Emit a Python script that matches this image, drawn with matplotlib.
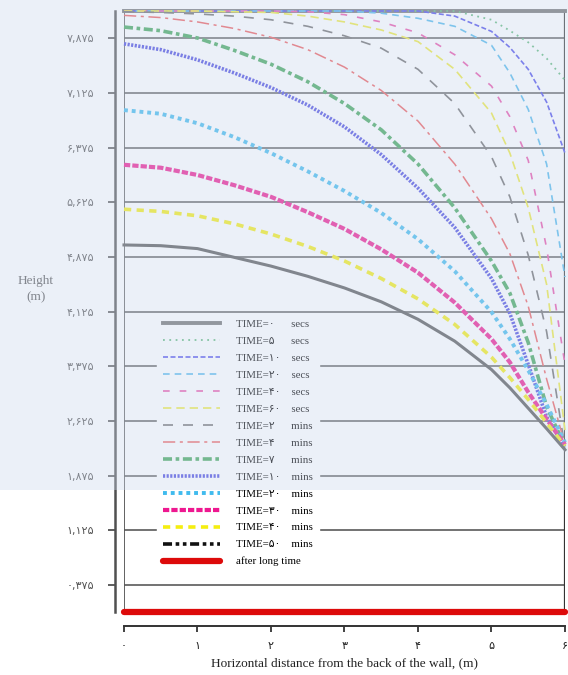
import numpy as np
import matplotlib
matplotlib.use('Agg')
import matplotlib.pyplot as plt
from matplotlib.lines import Line2D

# distance from the back of the wall (m)
x = [0, 0.5, 1, 1.5, 2, 2.5, 3, 3.5, 4, 4.5, 5, 5.25, 5.5, 5.75, 6]

# water table height (m) for each time step
h_0s = [8.25, 8.25, 8.25, 8.25, 8.25, 8.25, 8.25, 8.25, 8.25, 8.25, 8.25, 8.25, 8.25, 8.25, 8.25]
h_5s = [8.25, 8.25, 8.25, 8.25, 8.25, 8.25, 8.25, 8.25, 8.25, 8.25, 8.13, 7.98, 7.82, 7.60, 7.30]
h_10s = [8.25, 8.25, 8.25, 8.25, 8.25, 8.25, 8.25, 8.25, 8.25, 8.18, 7.97, 7.75, 7.45, 7.00, 6.30]
h_20s = [8.25, 8.25, 8.25, 8.25, 8.25, 8.25, 8.25, 8.22, 8.15, 8.04, 7.78, 7.40, 6.90, 6.15, 4.60]
h_40s = [8.25, 8.25, 8.25, 8.25, 8.25, 8.24, 8.20, 8.10, 7.95, 7.65, 7.22, 6.80, 6.20, 5.00, 3.40]
h_60s = [8.25, 8.25, 8.25, 8.24, 8.23, 8.18, 8.10, 7.99, 7.83, 7.45, 6.85, 6.30, 5.55, 4.50, 2.50]
h_2m = [8.24, 8.23, 8.21, 8.18, 8.13, 8.04, 7.91, 7.74, 7.45, 6.98, 6.25, 5.70, 4.90, 3.85, 2.25]
h_4m = [8.19, 8.16, 8.10, 8.01, 7.89, 7.72, 7.48, 7.16, 6.74, 6.15, 5.40, 4.92, 4.20, 3.20, 2.30]
h_7m = [8.03, 7.98, 7.88, 7.71, 7.52, 7.28, 6.98, 6.62, 6.15, 5.55, 4.82, 4.38, 3.70, 2.82, 2.28]
h_10m = [7.80, 7.72, 7.58, 7.40, 7.20, 6.96, 6.66, 6.28, 5.82, 5.28, 4.58, 4.10, 3.40, 2.68, 2.26]
h_20m = [6.89, 6.84, 6.71, 6.52, 6.30, 6.05, 5.78, 5.48, 5.12, 4.68, 4.12, 3.75, 3.32, 2.85, 2.33]
h_30m = [6.14, 6.10, 6.00, 5.86, 5.70, 5.49, 5.26, 4.98, 4.66, 4.25, 3.75, 3.43, 3.02, 2.65, 2.30]
h_40m = [5.53, 5.50, 5.44, 5.33, 5.19, 5.02, 4.82, 4.58, 4.30, 3.95, 3.50, 3.22, 2.92, 2.60, 2.28]
h_50m = [5.04, 5.03, 4.99, 4.87, 4.75, 4.61, 4.45, 4.26, 4.02, 3.72, 3.33, 3.08, 2.80, 2.52, 2.23]
h_long = [0, 0, 0, 0, 0, 0, 0, 0, 0, 0, 0, 0, 0, 0, 0]

times = [0, 5, 10, 20, 40, 60, 2, 4, 7, 10, 20, 30, 40, 50]
units = ['secs'] * 6 + ['mins'] * 8

yticks = [0.375, 1.125, 1.875, 2.625, 3.375, 4.125, 4.875, 5.625, 6.375, 7.125, 7.875]
xticks = [0, 1, 2, 3, 4, 5, 6]

fa = str.maketrans('0123456789', '۰۱۲۳۴۵۶۷۸۹')


def fa_num(s):
    return str(s).translate(fa)


serif = ['Liberation Serif', 'DejaVu Sans']

fig = plt.figure(figsize=(5.68, 6.75), dpi=100)
ax = fig.add_axes([0.2183, 0.0929, 0.7764, 0.8908])

# grid lines drawn by hand, one per tick
for v in yticks:
    ax.axhline(v, color='#5a5a5a', lw=1.2, zorder=1)

styles = [
    (h_0s, '#707070', 2.8, '-'),
    (h_5s, '#5cb87a', 1.3, (0, (1, 2.5))),
    (h_10s, '#4b4bea', 1.2, (0, (3, 1.5))),
    (h_20s, '#4fb8ec', 1.2, (0, (4, 3))),
    (h_40s, '#ea4fa8', 1.2, (0, (4, 6))),
    (h_60s, '#eeea3a', 1.2, (0, (5, 3))),
    (h_2m, '#6b6b6b', 1.2, (0, (6, 6))),
    (h_4m, '#ef5a5a', 1.1, (0, (8, 3, 2, 3))),
    (h_7m, '#3fa558', 2.6, (0, (2.5, 1, 1, 1))),
    (h_10m, '#4a4ae0', 2.6, (0, (0.6, 0.4))),
    (h_20m, '#40bbee', 2.8, (0, (1, 1))),
    (h_30m, '#ee1890', 3.0, (0, (1.5, 0.5))),
    (h_40m, '#f5ee10', 2.6, (0, (2, 1.5))),
    (h_50m, '#555555', 2.2, '-'),
]

handles = []
for (h, c, lw, ls), t, u in zip(styles, times, units):
    line, = ax.plot(x, h, color=c, lw=lw, ls=ls, zorder=3, clip_on=False)
    line.set_label('TIME=' + fa_num(t) + ('      ' if t < 10 else '    ') + u)
    handles.append(line)

# legend entry for 50 mins shown black dash-dot-dot
handles[-1] = Line2D([], [], color='#111111', lw=2.6, ls=(0, (2.5, 1, 1, 1, 1, 1)),
                     label=handles[-1].get_label())

red, = ax.plot(x, h_long, color='#dd0a0a', lw=4.5, solid_capstyle='round',
               zorder=4, clip_on=False, label='after long time')
handles.append(red)

ax.set_xlim(0, 6)
ax.set_ylim(0, 8.25)

# plot frame
ax.axvline(0, color='#555555', lw=1.3, zorder=2)
ax.axvline(6, color='#333333', lw=1.6, zorder=2)
ax.axhline(8.25, color='#707070', lw=1.5, zorder=2, clip_on=False)

for s in ['top', 'right']:
    ax.spines[s].set_visible(False)
ax.spines['left'].set_position(('outward', 6.5))
ax.spines['bottom'].set_position(('outward', 10))
ax.spines['left'].set_color('#505050')
ax.spines['left'].set_linewidth(1.8)
ax.spines['bottom'].set_color('#333333')
ax.spines['bottom'].set_linewidth(1.4)

ax.set_yticks(yticks)
ax.set_yticklabels([fa_num(f'{v:.3f}'.replace('.', ',')) for v in yticks],
                   fontsize=8, color='#555555', family='DejaVu Sans')
ax.set_xticks(xticks)
ax.set_xticklabels([fa_num(v) for v in xticks], fontsize=8, color='#222222',
                   family='DejaVu Sans')
ax.tick_params(axis='y', direction='out', length=5, width=1.3, color='#505050', pad=10)
ax.tick_params(axis='x', direction='out', length=4.5, width=1.3, color='#333333', pad=6)

ax.set_xlabel('Horizontal distance from the back of the wall, (m)',
              family=serif, fontsize=9.5, color='#222222', labelpad=5)
fig.text(36 / 568, 1 - 289 / 675, 'Height\n(m)', family=serif, fontsize=9.5,
         color='#555555', ha='center', va='center', linespacing=1.5)

leg = ax.legend(handles=handles, loc='upper left', bbox_to_anchor=(0.0635, 0.505),
                prop={'family': serif, 'size': 7.8}, frameon=True, fancybox=False,
                framealpha=1, facecolor='white', edgecolor='white',
                handlelength=5.3, handletextpad=1.5, labelspacing=0.68, borderpad=0.5)
leg.set_zorder(5)

# pale blue tint over the upper part of the sheet
ov = fig.add_axes([0, 0, 1, 1], zorder=10)
ov.axis('off')
tint = np.zeros((675, 1, 4))
tint[:, 0, 0] = 0.80
tint[:, 0, 1] = 0.85
tint[:, 0, 2] = 0.93
tint[:490, 0, 3] = 0.38
ov.imshow(tint, extent=[0, 1, 0, 1], aspect='auto', interpolation='nearest')
ov.set_xlim(0, 1)
ov.set_ylim(0, 1)

fig.savefig('out.png', dpi=100)
